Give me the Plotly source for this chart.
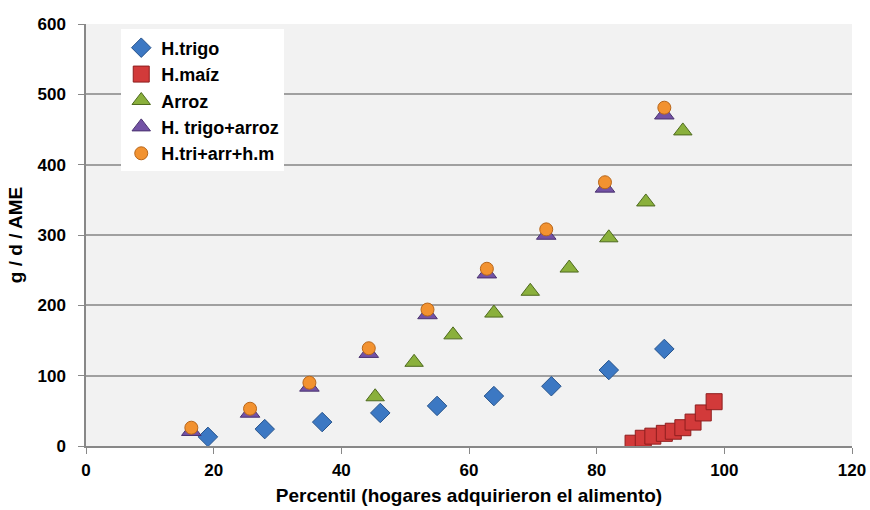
import plotly.graph_objects as go

# Data
trigo_x = [19.1, 28.0, 37.0, 46.1, 55.0, 63.9, 72.9, 81.9, 90.6]
trigo_y = [13, 24, 34, 47, 57, 71, 85, 108, 138]

maiz_x = [85.7, 87.3, 88.8, 90.6, 92.0, 93.5, 95.1, 96.7, 98.4]
maiz_y = [4, 11, 14, 18, 21, 26, 34, 47, 63]

arroz_x = [45.3, 51.4, 57.5, 63.9, 69.6, 75.7, 81.9, 87.7, 93.5]
arroz_y = [70, 119, 158, 189, 220, 253, 296, 347, 448]

ta_x = [16.5, 25.7, 35.0, 44.3, 53.5, 62.8, 72.1, 81.3, 90.6]
ta_y = [21, 47, 84, 132, 187, 245, 300, 367, 471]

tah_x = [16.5, 25.7, 35.0, 44.3, 53.5, 62.8, 72.1, 81.3, 90.6]
tah_y = [26, 53, 90, 139, 194, 252, 308, 375, 481]

x_ticks = [0, 20, 40, 60, 80, 100, 120]
y_ticks = [0, 100, 200, 300, 400, 500, 600]

FONT = "Liberation Sans, Arial, sans-serif"
TICKF = dict(family=FONT, size=17, color="black", weight="bold")
TITLEF = dict(family=FONT, size=19, color="black", weight="bold")

fig = go.Figure()
fig.add_trace(go.Scatter(x=trigo_x, y=trigo_y, mode="markers", name="H.trigo",
                         marker=dict(symbol="diamond", size=15, color="#3C78C3",
                                     line=dict(color="#28548C", width=1))))
fig.add_trace(go.Scatter(x=maiz_x, y=maiz_y, mode="markers", name="H.maíz",
                         marker=dict(symbol="square", size=16, color="#D23A3A",
                                     line=dict(color="#8E1E1E", width=1))))
fig.add_trace(go.Scatter(x=arroz_x, y=arroz_y, mode="markers", name="Arroz",
                         marker=dict(symbol="triangle-up", size=16, color="#8AB03C",
                                     line=dict(color="#4E6A1E", width=1))))
fig.add_trace(go.Scatter(x=ta_x, y=ta_y, mode="markers", name="H. trigo+arroz",
                         marker=dict(symbol="triangle-up", size=17, color="#7352A5",
                                     line=dict(color="#4A3270", width=1))))
fig.add_trace(go.Scatter(x=tah_x, y=tah_y, mode="markers", name="H.tri+arr+h.m",
                         marker=dict(symbol="circle", size=13, color="#F29230",
                                     line=dict(color="#B8661A", width=1))))

fig.update_layout(
    width=870, height=510,
    margin=dict(l=86, r=18, t=24, b=64, autoexpand=False),
    paper_bgcolor="white",
    plot_bgcolor="#F2F2F2",
    font=dict(family=FONT, size=17, color="black"),
    showlegend=True,
    legend=dict(x=0.046, y=0.987, xanchor="left", yanchor="top",
                bgcolor="white", borderwidth=0,
                font=dict(family=FONT, size=18, color="black", weight="bold"),
                tracegroupgap=0, itemwidth=30),
    xaxis=dict(range=[0, 120], tickvals=x_ticks, ticktext=[str(v) for v in x_ticks],
               showgrid=False, zeroline=False, showline=True, linecolor="#888888",
               linewidth=1.5, ticks="outside", ticklen=6, tickcolor="#888888",
               automargin=False, tickfont=TICKF, ticklabelstandoff=2,
               title=dict(text="Percentil (hogares adquirieron el alimento)",
                          font=TITLEF, standoff=10)),
    yaxis=dict(range=[0, 600], tickvals=y_ticks, ticktext=[str(v) for v in y_ticks],
               showgrid=True, gridcolor="#A0A0A0", gridwidth=1.5, zeroline=False,
               showline=True, linecolor="#888888", linewidth=1.5,
               ticks="outside", ticklen=6, tickcolor="#888888",
               automargin=False, tickfont=TICKF, ticklabelstandoff=9,
               title=dict(text="g / d / AME", font=TITLEF, standoff=10)),
)

fig.write_html("out.html")
